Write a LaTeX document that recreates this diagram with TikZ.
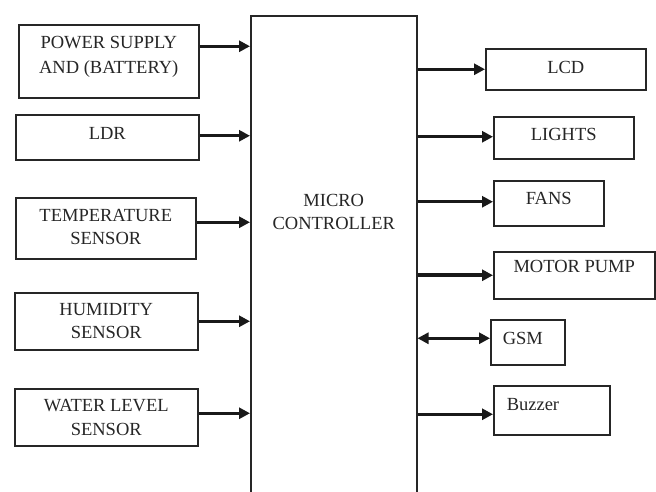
\documentclass[tikz,border=0pt]{standalone}
\usepackage{fontspec}
\setmainfont{Liberation Serif}
\usetikzlibrary{arrows.meta}
\tikzset{>={Triangle[length=11pt, width=11pt]}}
\tikzset{blk/.style={draw=black!85, line width=1.5pt, fill=white, anchor=north west,
  align=center, inner sep=0pt, text=black!85, font=\fontsize{18.5}{23.5}\selectfont}}
\tikzset{link/.style={->, line width=2.8pt, black!90}}

\begin{document}
\begin{tikzpicture}[x=1pt, y=-1pt]
    \clip(0, 0)rectangle(656, 491);
    \node[blk, minimum width=166pt, minimum height=486pt, text depth=94pt](mc)at(250, 15){MICRO\\CONTROLLER};
    \node[blk, minimum width=180pt, minimum height=73pt, text depth=12pt, font=\fontsize{18.5}{25}\selectfont](pw)at(18, 24){POWER SUPPLY\\AND (BATTERY)};
    \node[blk, minimum width=183pt, minimum height=45pt, text depth=8pt](ldr)at(15, 114){LDR};
    \node[blk, minimum width=180pt, minimum height=61pt, text depth=3pt](tmp)at(15, 197){TEMPERATURE\\SENSOR};
    \node[blk, minimum width=183pt, minimum height=57pt](hum)at(14, 292){HUMIDITY\\SENSOR};
    \node[blk, minimum width=183pt, minimum height=57pt](wl)at(14, 388){WATER LEVEL\\SENSOR};
    \node[blk, minimum width=160pt, minimum height=41pt, text depth=3pt](lcd)at(485, 48){LCD};
    \node[blk, minimum width=140pt, minimum height=42pt, text depth=7pt](lt)at(493, 116){LIGHTS};
    \node[blk, minimum width=110pt, minimum height=45pt, text depth=9pt](fan)at(493, 180){FANS};
    \node[blk, minimum width=161pt, minimum height=47pt, text depth=17pt](mp)at(493, 251){MOTOR PUMP};
    \node[blk, minimum width=74pt, minimum height=45pt, text depth=8pt, text width=50pt, align=left, inner xsep=12pt](gsm)at(490, 319){GSM};
    \node[blk, minimum width=116pt, minimum height=49pt, text depth=12pt, text width=90pt, align=left, inner xsep=13pt](bz)at(493, 385){Buzzer};
    \foreach \n/\s in {pw/15, ldr/1.5, tmp/6, hum/0, wl/4}
        \draw[link]([yshift=\s pt]\n.east)coordinate(a)--(a -| mc.west);
    \foreach \n/\s in {lcd/0, lt/1, fan/1.5, bz/-4}{
        \path([yshift=\s pt]\n.west)coordinate(b);
        \draw[link](b -| mc.east)--(b);
    }
    \draw[link, line width=3.8pt](mp.west -| mc.east)--(mp.west);
    \path([yshift=4pt]gsm.west)coordinate(g);
    \draw[link, <->](g -| mc.east)--(g);
\end{tikzpicture}
\end{document}
